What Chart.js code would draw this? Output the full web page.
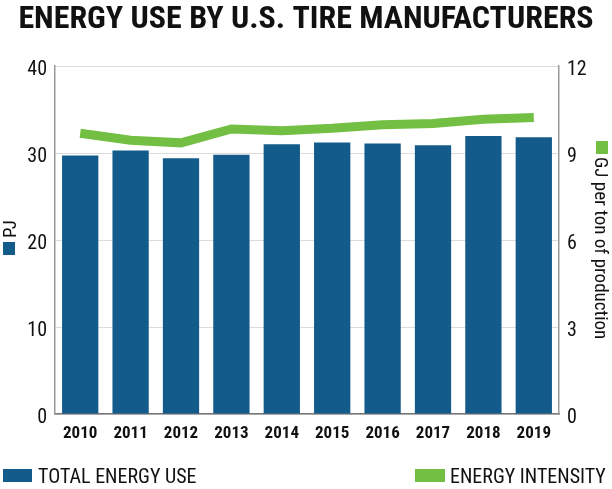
<!DOCTYPE html>
<html>
<head>
<meta charset="utf-8">
<script src="https://cdn.jsdelivr.net/npm/chart.js@4"></script>
<style>
  body { margin: 0; background: #fff; }
</style>
</head>
<body>
<canvas id="chart" width="612" height="489"></canvas>
<script>
// data
const years = ['2010', '2011', '2012', '2013', '2014', '2015', '2016', '2017', '2018', '2019'];
const totalEnergyUse = [29.7, 30.3, 29.4, 29.8, 31.0, 31.2, 31.1, 30.9, 31.95, 31.8]; // PJ
const energyIntensity = [9.68, 9.44, 9.35, 9.83, 9.77, 9.85, 9.97, 10.02, 10.16, 10.22]; // GJ per ton
const leftTicks = [0, 10, 20, 30, 40];
const rightTicks = [0, 3, 6, 9, 12];

const BLUE = '#135b8b';
const GREEN = '#72bf44';
const FONT = '"Roboto Condensed", Roboto, sans-serif';

// title, legend and the two axis titles with their little colour keys
const decorations = {
  id: 'decorations',
  afterDraw(chart) {
    const ctx = chart.ctx;
    ctx.save();
    ctx.fillStyle = '#111';
    ctx.font = 'bold 32px ' + FONT;
    ctx.textAlign = 'center';
    ctx.textBaseline = 'alphabetic';
    ctx.fillText('ENERGY USE BY U.S. TIRE MANUFACTURERS', 306, 28);

    // legend
    ctx.font = '20px ' + FONT;
    ctx.textAlign = 'left';
    ctx.fillStyle = BLUE;
    ctx.fillRect(3, 469, 29, 13);
    ctx.fillStyle = '#111';
    ctx.fillText('TOTAL ENERGY USE', 38, 483);
    ctx.fillStyle = GREEN;
    ctx.fillRect(415, 469, 30, 13);
    ctx.fillStyle = '#111';
    ctx.fillText('ENERGY INTENSITY', 450, 483);

    // left axis title
    ctx.font = '19px ' + FONT;
    ctx.fillStyle = BLUE;
    ctx.fillRect(3, 242, 12, 13);
    ctx.save();
    ctx.translate(16, 238);
    ctx.rotate(-Math.PI / 2);
    ctx.fillStyle = '#111';
    ctx.textAlign = 'left';
    ctx.fillText('PJ', 0, 0);
    ctx.restore();

    // right axis title
    ctx.fillStyle = GREEN;
    ctx.fillRect(596, 141, 12, 13);
    ctx.save();
    ctx.translate(595, 157);
    ctx.rotate(Math.PI / 2);
    ctx.fillStyle = '#111';
    ctx.textAlign = 'left';
    ctx.fillText('GJ per ton of production', 0, 0);
    ctx.restore();
    ctx.restore();
  }
};

new Chart(document.getElementById('chart'), {
  data: {
    labels: years,
    datasets: [
      {
        type: 'line',
        label: 'ENERGY INTENSITY',
        data: energyIntensity,
        yAxisID: 'y1',
        borderColor: GREEN,
        borderWidth: 9,
        borderCapStyle: 'butt',
        tension: 0,
        pointRadius: 0,
        order: 0
      },
      {
        type: 'bar',
        label: 'TOTAL ENERGY USE',
        data: totalEnergyUse,
        yAxisID: 'y',
        backgroundColor: BLUE,
        categoryPercentage: 1,
        barPercentage: 0.72,
        order: 1
      }
    ]
  },
  options: {
    responsive: false,
    animation: false,
    layout: { padding: { top: 66, left: 0, right: 0, bottom: 0 } },
    plugins: {
      legend: { display: false },
      title: { display: false },
      tooltip: { enabled: false }
    },
    scales: {
      x: {
        grid: { display: false, drawTicks: false },
        border: { color: '#777', width: 1.5 },
        ticks: { color: '#111', font: { family: FONT, size: 17, weight: 'bold' }, padding: 10 },
        afterFit(scale) { scale.height = 75; }
      },
      y: {
        position: 'left',
        min: 0,
        max: 40,
        afterBuildTicks(scale) { scale.ticks = leftTicks.map(v => ({ value: v })); },
        grid: { color: '#dcdcdc', drawTicks: false },
        border: { color: '#999', width: 1.5 },
        ticks: { color: '#111', font: { family: FONT, size: 20 }, padding: 8, labelOffset: 4 },
        afterFit(scale) { scale.width = 55; }
      },
      y1: {
        position: 'right',
        min: 0,
        max: 12,
        afterBuildTicks(scale) { scale.ticks = rightTicks.map(v => ({ value: v })); },
        grid: { display: false, drawTicks: false },
        border: { color: '#999', width: 1.5 },
        ticks: { color: '#111', font: { family: FONT, size: 20 }, padding: 8, labelOffset: 4 },
        afterFit(scale) { scale.width = 53; }
      }
    }
  },
  plugins: [decorations]
});
</script>
</body>
</html>
